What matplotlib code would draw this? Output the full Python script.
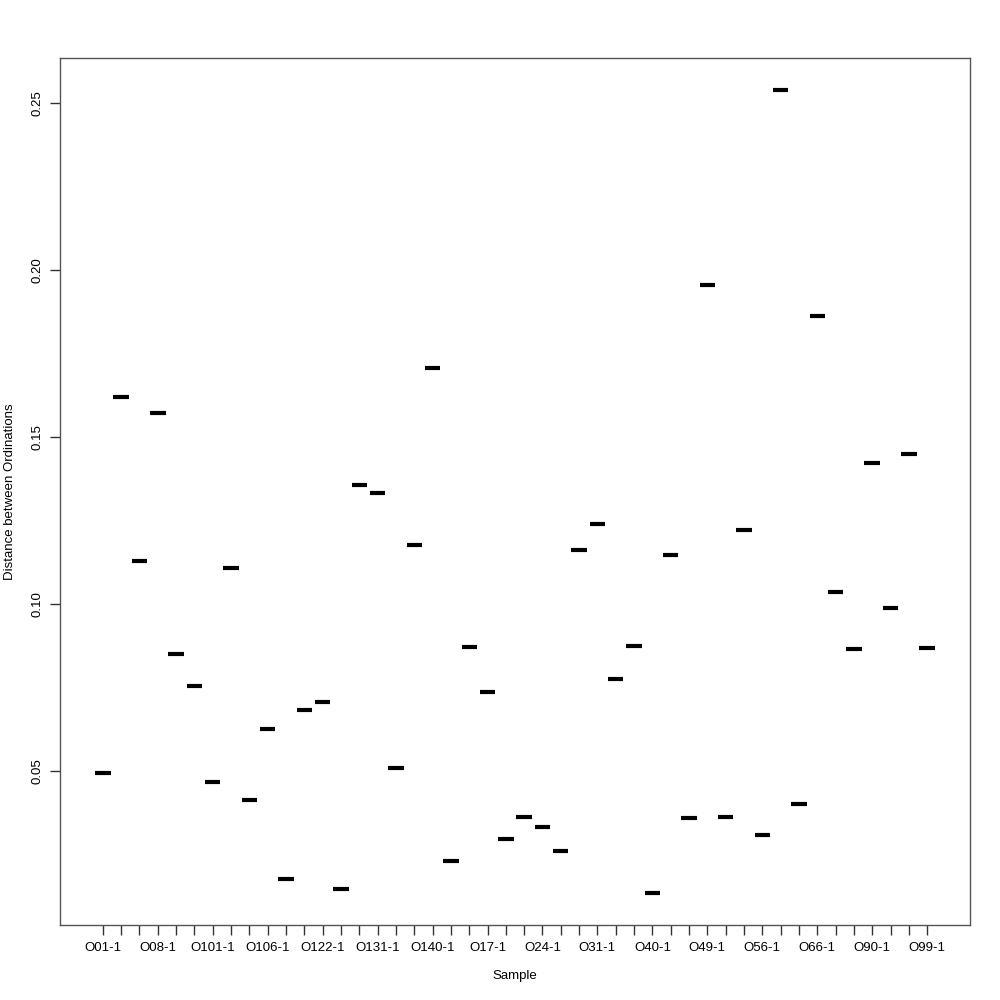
import matplotlib.pyplot as plt
import numpy as np

plt.rcParams['font.family'] = ['Liberation Sans', 'DejaVu Sans']

# sample names (only every third one is printed, like R drops overlapping labels)
samples = ['O01-1', 'O03-1', 'O05-1', 'O08-1', 'O10-1', 'O100-1', 'O101-1', 'O102-1', 'O104-1',
           'O106-1', 'O110-1', 'O115-1', 'O122-1', 'O125-1', 'O128-1', 'O131-1', 'O134-1', 'O137-1',
           'O140-1', 'O13-1', 'O15-1', 'O17-1', 'O19-1', 'O21-1', 'O24-1', 'O26-1', 'O28-1',
           'O31-1', 'O33-1', 'O37-1', 'O40-1', 'O43-1', 'O46-1', 'O49-1', 'O51-1', 'O53-1',
           'O56-1', 'O60-1', 'O63-1', 'O66-1', 'O70-1', 'O85-1', 'O90-1', 'O93-1', 'O96-1', 'O99-1']
dist = [0.0494, 0.1620, 0.1129, 0.1572, 0.0850, 0.0754, 0.0467, 0.1108, 0.0413, 0.0626,
        0.0177, 0.0683, 0.0707, 0.0147, 0.1356, 0.1332, 0.0509, 0.1177, 0.1707, 0.0231,
        0.0871, 0.0737, 0.0296, 0.0362, 0.0332, 0.0260, 0.1162, 0.1240, 0.0775, 0.0874,
        0.0135, 0.1147, 0.0359, 0.1955, 0.0362, 0.1222, 0.0308, 0.2539, 0.0401, 0.1862,
        0.1036, 0.0865, 0.1422, 0.0988, 0.1449, 0.0868]
yticks = [0.05, 0.10, 0.15, 0.20, 0.25]

n = len(samples)
pos = np.arange(1, n + 1)

fig = plt.figure(figsize=(10, 10), dpi=100)
ax = fig.add_axes([0.060, 0.075, 0.910, 0.867])

ax.hlines(dist, pos - 0.42, pos + 0.42, colors='black', linewidth=3)

rng = n
ax.set_xlim(0.5 - 0.04 * rng, n + 0.5 + 0.04 * rng)
dr = max(dist) - min(dist)
ax.set_ylim(min(dist) - 0.04 * dr, max(dist) + 0.04 * dr)

ax.set_xticks(pos)
ax.set_xticklabels([s if i % 3 == 0 else '' for i, s in enumerate(samples)])
ax.set_yticks(yticks)
ax.set_yticklabels(['%.2f' % v for v in yticks], rotation=90, va='center')
ax.tick_params(direction='out', length=7, width=1, labelsize=9.5, color='#333333')
ax.tick_params(axis='x', pad=5)
ax.tick_params(axis='y', pad=5)
for s in ax.spines.values():
    s.set_color('#555555')
    s.set_linewidth(1)

ax.set_xlabel('Sample', fontsize=9.5)
ax.set_ylabel('Distance between Ordinations', fontsize=9.5)
ax.xaxis.set_label_coords(0.5, -0.052)
ax.yaxis.set_label_coords(-0.048, 0.5)

fig.savefig('out.png', dpi=100)
